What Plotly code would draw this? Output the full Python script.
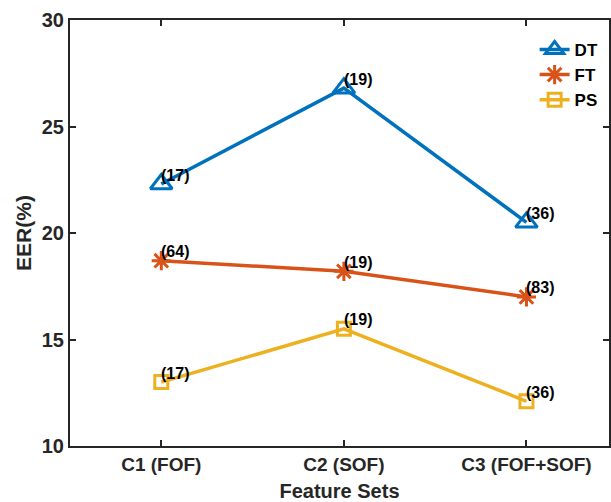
import plotly.graph_objects as go

categories = ["C1 (FOF)", "C2 (SOF)", "C3 (FOF+SOF)"]
dt_values = [22.3, 26.8, 20.5]
ft_values = [18.7, 18.2, 17.0]
ps_values = [13.0, 15.5, 12.1]
dt_labels = ["(17)", "(19)", "(36)"]
ft_labels = ["(64)", "(19)", "(83)"]
ps_labels = ["(17)", "(19)", "(36)"]
y_ticks = [10, 15, 20, 25, 30]

xpos = [1, 2, 3]
series = [
    ("DT", dt_values, dt_labels, "#0072BD", "triangle-up-open", 19),
    ("FT", ft_values, ft_labels, "#D95319", "asterisk-open", 16),
    ("PS", ps_values, ps_labels, "#EDB120", "square-open", 13),
]

fig = go.Figure()
for name, vals, labs, color, sym, sz in series:
    fig.add_trace(go.Scatter(
        x=xpos, y=vals, mode="lines+markers", name=name,
        line=dict(color=color, width=3.5),
        marker=dict(symbol=sym, size=sz, color=color, line=dict(color=color, width=3)),
    ))
    for xv, yv, lab in zip(xpos, vals, labs):
        fig.add_annotation(
            x=xv, y=yv, text=lab, showarrow=False,
            xanchor="left", yanchor="middle", xshift=-2, yshift=9,
            font=dict(family="Liberation Sans", size=16, color="black", weight="bold"),
        )

fig.update_layout(
    width=611, height=502,
    margin=dict(l=70, r=0, t=20, b=56),
    paper_bgcolor="white", plot_bgcolor="white",
    font=dict(family="Liberation Sans", color="black"),
    showlegend=True,
    legend=dict(x=0.862, y=0.972, xanchor="left", yanchor="top",
                font=dict(size=17, weight="bold", family="Liberation Sans"),
                bgcolor="rgba(0,0,0,0)", itemwidth=30, tracegroupgap=0),
)
fig.update_xaxes(
    range=[0.5, 3.452], tickvals=xpos, ticktext=categories,
    showline=True, linecolor="#262626", linewidth=2, mirror="ticks",
    ticks="inside", ticklen=6, tickwidth=2, tickcolor="#262626",
    showgrid=False, zeroline=False,
    tickfont=dict(size=19, weight="bold", family="Liberation Sans", color="#262626"),
    title=dict(text="Feature Sets", standoff=13,
               font=dict(size=20, weight="bold", family="Liberation Sans", color="#262626")),
)
fig.update_yaxes(
    range=[10, 30], tickvals=y_ticks,
    showline=True, linecolor="#262626", linewidth=2, mirror="ticks",
    ticks="inside", ticklen=6, tickwidth=2, tickcolor="#262626",
    showgrid=False, zeroline=False,
    tickfont=dict(size=20, weight="bold", family="Liberation Sans", color="#262626"),
    title=dict(text="EER(%)", standoff=4,
               font=dict(size=21, weight="bold", family="Liberation Sans", color="#262626")),
)
fig.write_html("out.html")
